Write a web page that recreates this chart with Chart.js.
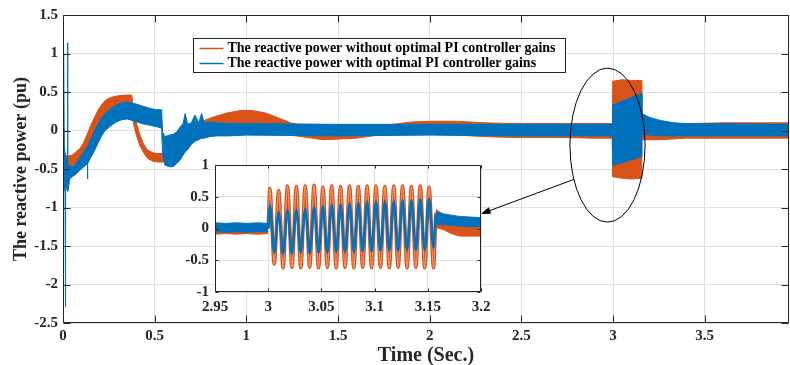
<!DOCTYPE html>
<html>
<head>
<meta charset="utf-8">
<script src="https://cdn.jsdelivr.net/npm/chart.js@4.4.1/dist/chart.umd.min.js"></script>
<style>
  html, body { margin: 0; padding: 0; background: #fff; }
  #wrap { position: relative; width: 790px; height: 365px; }
  #main { position: absolute; left: 0; top: 0; }
  #inset { position: absolute; left: 170px; top: 150px; }
</style>
</head>
<body>
<div id="wrap">
  <canvas id="main" width="790" height="365"></canvas>
  <canvas id="inset" width="330" height="170"></canvas>
</div>
<script>
// series names and tick labels
const seriesNames = [
  "The reactive power without optimal PI controller gains",
  "The reactive power with optimal PI controller gains"
];
const xTicks = [0, 0.5, 1, 1.5, 2, 2.5, 3, 3.5];
const yTicks = [1.5, 1, 0.5, 0, -0.5, -1, -1.5, -2, -2.5];
const insetXTicks = [2.95, 3, 3.05, 3.1, 3.15, 3.2];
const insetYTicks = [1, 0.5, 0, -0.5, -1];

// main plot: the noisy signals are read as upper / lower envelopes
const orangeTime = [0, 0.004, 0.015, 0.03, 0.05, 0.07, 0.09, 0.11, 0.13, 0.15, 0.17, 0.19, 0.21, 0.23, 0.26,
  0.30, 0.34, 0.37, 0.375, 0.385, 0.40, 0.42, 0.44, 0.46, 0.49, 0.52, 0.555, 0.58, 0.62, 0.66, 0.70, 0.74, 0.78,
  0.84, 0.90, 0.97, 1.03, 1.10, 1.17, 1.24, 1.30, 1.42, 1.60, 1.66, 1.72, 1.80, 1.90, 2.00, 2.15, 2.30, 2.45,
  2.70, 2.90, 2.996, 2.998, 3.05, 3.10, 3.155, 3.157, 3.20, 3.26, 3.33, 3.40, 3.60, 3.80, 3.96];
const orangeHigh = [0.02, -0.30, -0.33, -0.33, -0.32, -0.28, -0.24, -0.17, -0.06, 0.06, 0.16, 0.26, 0.33, 0.39, 0.43,
  0.45, 0.46, 0.46, 0.46, 0.25, 0.10, -0.06, -0.18, -0.25, -0.29, -0.30, -0.30, -0.26, -0.15, -0.04, 0.04, 0.09, 0.14,
  0.19, 0.23, 0.26, 0.26, 0.23, 0.17, 0.10, 0.07, 0.05, 0.05, 0.05, 0.06, 0.08, 0.11, 0.12, 0.12, 0.10, 0.09,
  0.09, 0.09, 0.09, 0.64, 0.66, 0.65, 0.65, 0.05, 0.04, 0.05, 0.07, 0.09, 0.10, 0.10, 0.10];
const orangeLow = [-0.02, -0.40, -0.45, -0.46, -0.46, -0.43, -0.40, -0.35, -0.27, -0.16, -0.05, 0.04, 0.12, 0.18, 0.24,
  0.27, 0.29, 0.29, 0.22, 0.08, -0.06, -0.20, -0.29, -0.36, -0.40, -0.41, -0.41, -0.40, -0.32, -0.20, -0.10, -0.03, 0.01,
  0.05, 0.07, 0.09, 0.09, 0.07, 0.03, -0.06, -0.08, -0.12, -0.10, -0.08, -0.06, -0.05, -0.05, -0.05, -0.06, -0.08, -0.09,
  -0.09, -0.10, -0.10, -0.60, -0.62, -0.63, -0.62, -0.12, -0.12, -0.12, -0.11, -0.10, -0.10, -0.10, -0.10];

const blueTime = [0, 0.004, 0.007, 0.011, 0.013, 0.015, 0.020, 0.0235, 0.025, 0.0265, 0.030, 0.036, 0.05, 0.07, 0.09,
  0.11, 0.133, 0.134, 0.135, 0.15, 0.17, 0.19, 0.21, 0.23, 0.26, 0.29, 0.32, 0.35, 0.39, 0.43,
  0.47, 0.51, 0.538, 0.543, 0.556, 0.58, 0.60, 0.62, 0.64, 0.655, 0.666, 0.68, 0.70, 0.72, 0.74,
  0.756, 0.77, 0.80, 0.84, 0.90, 1.00, 1.50, 2.00, 2.50, 2.996, 2.998, 3.05, 3.10, 3.155, 3.158,
  3.20, 3.26, 3.33, 3.40, 3.96];
const blueHigh = [0.98, 0.95, -0.20, -0.30, -0.32, -0.35, -0.40, -0.40, 1.14, -0.42, -0.45, -0.45, -0.47, -0.44, -0.36,
  -0.29, -0.21, -0.21, -0.21, -0.12, -0.02, 0.08, 0.16, 0.22, 0.28, 0.33, 0.36, 0.37, 0.35, 0.32,
  0.29, 0.27, 0.27, -0.02, -0.08, -0.06, -0.05, -0.02, 0.05, 0.09, 0.22, 0.08, 0.10, 0.20, 0.10,
  0.22, 0.10, 0.11, 0.10, 0.09, 0.09, 0.08, 0.08, 0.08, 0.08, 0.33, 0.38, 0.43, 0.48, 0.22,
  0.17, 0.13, 0.10, 0.09, 0.08];
const blueLow = [-0.62, -0.70, -0.75, -0.80, -2.29, -0.80, -0.72, -0.70, -0.72, -0.79, -0.75, -0.63, -0.60, -0.57, -0.52,
  -0.48, -0.43, -0.63, -0.43, -0.36, -0.27, -0.17, -0.07, 0.00, 0.06, 0.11, 0.14, 0.15, 0.12, 0.09,
  0.07, 0.05, 0.03, -0.30, -0.45, -0.47, -0.47, -0.43, -0.38, -0.32, -0.28, -0.25, -0.18, -0.14, -0.12,
  -0.10, -0.10, -0.08, -0.07, -0.07, -0.06, -0.07, -0.06, -0.07, -0.07, -0.45, -0.42, -0.38, -0.34, -0.05,
  -0.06, -0.07, -0.07, -0.07, -0.07];

// inset: noise band before the fault, oscillation peaks/troughs, noise band after
const preTime = [2.95, 2.96, 2.97, 2.98, 2.99, 3.0];
const orangePreHigh = [0.06, 0.07, 0.06, 0.07, 0.06, 0.06];
const orangePreLow = [-0.09, -0.08, -0.09, -0.08, -0.09, -0.08];
const bluePreHigh = [0.09, 0.08, 0.09, 0.08, 0.09, 0.08];
const bluePreLow = [-0.05, -0.06, -0.05, -0.06, -0.05, -0.05];

const oscTime = [3.0, 3.0015, 3.0057, 3.0098, 3.014, 3.0181, 3.0223, 3.0265, 3.0306, 3.0348, 3.039, 3.0431,
  3.0473, 3.0514, 3.0556, 3.0597, 3.0639, 3.068, 3.0722, 3.0764, 3.0805, 3.0847, 3.0888, 3.093, 3.0972,
  3.1013, 3.1055, 3.1096, 3.1138, 3.118, 3.1221, 3.1263, 3.1305, 3.1346, 3.1388, 3.1429, 3.1471, 3.1512,
  3.1554, 3.1575];
const orangeOsc = [0.0, 0.63, -0.56, 0.60, -0.62, 0.67, -0.61, 0.66, -0.62, 0.67, -0.61, 0.68, -0.62, 0.65,
  -0.61, 0.67, -0.62, 0.66, -0.61, 0.67, -0.62, 0.66, -0.61, 0.67, -0.62, 0.67, -0.61, 0.66, -0.62, 0.67,
  -0.61, 0.67, -0.62, 0.66, -0.61, 0.67, -0.62, 0.65, -0.62, 0.25];
const blueOsc = [0.0, 0.37, -0.38, 0.26, -0.40, 0.29, -0.39, 0.29, -0.38, 0.31, -0.39, 0.34, -0.38, 0.35,
  -0.38, 0.37, -0.37, 0.37, -0.37, 0.39, -0.37, 0.40, -0.36, 0.42, -0.36, 0.42, -0.35, 0.43, -0.35, 0.43,
  -0.35, 0.44, -0.34, 0.44, -0.34, 0.46, -0.34, 0.47, -0.30, 0.22];

const postTime = [3.1575, 3.165, 3.172, 3.18, 3.19, 3.2];
const orangePostHigh = [0.30, 0.22, 0.12, 0.06, 0.05, 0.05];
const orangePostLow = [0.02, -0.02, -0.08, -0.12, -0.12, -0.12];
const bluePostHigh = [0.26, 0.23, 0.21, 0.19, 0.18, 0.17];
const bluePostLow = [0.07, 0.06, 0.05, 0.04, 0.03, 0.03];

// annotation: ellipse around the fault (data units) and arrow to the inset
const ellipseAt = { t: 2.97, v: -0.19, rt: 0.205, rv: 1.0 };
const arrowFrom = 2.68; // angle on the ellipse, radians
const arrowTip = { t: 2.278, v: -1.084 };

const ORANGE = "#D95319";
const SALMON = "#EE9E7C";
const BLUE = "#0072BD";
const AXIS = "#262626";
const GRID = "#dfdfdf";
const FONT = "'Liberation Serif', 'Times New Roman', serif";

Chart.defaults.font.family = FONT;

function pts(time, vals) {
  return time.map((t, i) => ({ x: t, y: vals[i] }));
}

function band(time, hi, lo, color, order) {
  return [
    { data: pts(time, hi), borderColor: color, borderWidth: 1, pointRadius: 0, fill: false, order },
    { data: pts(time, lo), borderColor: color, borderWidth: 1, pointRadius: 0, fill: "-1", backgroundColor: color, order }
  ];
}

function wave(time, vals, color, width, order) {
  return { data: pts(time, vals), borderColor: color, borderWidth: width, pointRadius: 0, fill: false,
    cubicInterpolationMode: "monotone", order };
}

function drawFrame(ctx, a, xs, ys, xt, yt, len) {
  const L = Math.round(a.left) + 0.5, R = Math.round(a.right) - 0.5;
  const T = Math.round(a.top) + 0.5, B = Math.round(a.bottom) - 0.5;
  ctx.strokeStyle = AXIS;
  ctx.lineWidth = 1;
  ctx.beginPath();
  ctx.rect(L, T, R - L, B - T);
  xt.forEach(v => {
    const px = Math.round(xs.getPixelForValue(v)) + 0.5;
    ctx.moveTo(px, B); ctx.lineTo(px, B - len);
    ctx.moveTo(px, T); ctx.lineTo(px, T + len);
  });
  yt.forEach(v => {
    const py = Math.round(ys.getPixelForValue(v)) + 0.5;
    ctx.moveTo(L, py); ctx.lineTo(L + len, py);
    ctx.moveTo(R, py); ctx.lineTo(R - len, py);
  });
  ctx.stroke();
}

const mainDecor = {
  id: "mainDecor",
  afterDraw(chart) {
    const { ctx, chartArea: a, scales: { x, y } } = chart;
    ctx.save();
    drawFrame(ctx, a, x, y, xTicks, yTicks, 7);

    // ellipse + arrow
    const cx = x.getPixelForValue(ellipseAt.t), cy = y.getPixelForValue(ellipseAt.v);
    const rx = x.getPixelForValue(ellipseAt.t + ellipseAt.rt) - cx;
    const ry = cy - y.getPixelForValue(ellipseAt.v + ellipseAt.rv);
    ctx.strokeStyle = "#000";
    ctx.lineWidth = 1;
    ctx.beginPath();
    ctx.ellipse(cx, cy, rx, ry, 0, 0, Math.PI * 2);
    ctx.stroke();

    const sx = cx + rx * Math.cos(arrowFrom), sy = cy + ry * Math.sin(arrowFrom);
    const ex = x.getPixelForValue(arrowTip.t), ey = y.getPixelForValue(arrowTip.v);
    const ang = Math.atan2(ey - sy, ex - sx);
    const hl = 10, hw = 3.5;
    const bx = ex - hl * Math.cos(ang), by = ey - hl * Math.sin(ang);
    ctx.beginPath();
    ctx.moveTo(sx, sy);
    ctx.lineTo(bx, by);
    ctx.stroke();
    ctx.fillStyle = "#000";
    ctx.beginPath();
    ctx.moveTo(ex, ey);
    ctx.lineTo(bx + hw * Math.sin(ang), by - hw * Math.cos(ang));
    ctx.lineTo(bx - hw * Math.sin(ang), by + hw * Math.cos(ang));
    ctx.closePath();
    ctx.fill();

    // legend box
    const lx = Math.round(a.left + 130) + 0.5, ly = Math.round(a.top + 23) + 0.5;
    const lw = 372, lh = 34;
    ctx.fillStyle = "#fff";
    ctx.fillRect(lx, ly, lw, lh);
    ctx.strokeStyle = AXIS;
    ctx.strokeRect(lx, ly, lw, lh);
    ctx.font = "bold 14px " + FONT;
    ctx.textBaseline = "middle";
    [ORANGE, BLUE].forEach((c, i) => {
      const yy = ly + 10 + i * 15;
      ctx.strokeStyle = c;
      ctx.lineWidth = 1.5;
      ctx.beginPath();
      ctx.moveTo(lx + 6, yy); ctx.lineTo(lx + 30, yy);
      ctx.stroke();
      ctx.fillStyle = "#000";
      ctx.fillText(seriesNames[i], lx + 34, yy);
    });
    ctx.restore();
  }
};

const insetDecor = {
  id: "insetDecor",
  beforeDraw(chart) {
    const { ctx, chartArea: a } = chart;
    ctx.save();
    ctx.fillStyle = "#fff";
    ctx.fillRect(a.left, a.top, a.right - a.left, a.bottom - a.top);
    ctx.restore();
  },
  afterDraw(chart) {
    const { ctx, chartArea: a, scales: { x, y } } = chart;
    ctx.save();
    drawFrame(ctx, a, x, y, insetXTicks, insetYTicks, 3);
    ctx.restore();
  }
};

const tickFont = { size: 15, weight: "bold" };

new Chart(document.getElementById("main"), {
  type: "line",
  data: {
    datasets: [
      ...band(orangeTime, orangeHigh, orangeLow, ORANGE, 2),
      ...band(blueTime, blueHigh, blueLow, BLUE, 1)
    ]
  },
  options: {
    responsive: false,
    animation: false,
    devicePixelRatio: 1,
    events: [],
    layout: { padding: { top: 15, right: 1, left: 0, bottom: 0 } },
    plugins: { legend: { display: false }, tooltip: { enabled: false } },
    scales: {
      x: {
        type: "linear", min: 0, max: 3.96,
        afterBuildTicks: s => { s.ticks = xTicks.map(v => ({ value: v })); },
        afterFit: s => { s.height = 42; },
        ticks: { font: tickFont, color: AXIS, padding: 4, maxRotation: 0, autoSkip: false, callback: v => String(v) },
        grid: { color: GRID, drawTicks: false },
        border: { display: false },
        title: { display: true, text: "Time (Sec.)", color: AXIS, font: { size: 20, weight: "bold", lineHeight: 0.9 }, padding: { top: 0, bottom: 0 } }
      },
      y: {
        type: "linear", min: -2.5, max: 1.5,
        afterBuildTicks: s => { s.ticks = yTicks.map(v => ({ value: v })); },
        afterFit: s => { s.width = 63; },
        ticks: { font: tickFont, color: AXIS, padding: 5, autoSkip: false, callback: v => String(v) },
        grid: { color: GRID, drawTicks: false },
        border: { display: false },
        title: { display: true, text: "The reactive power (pu)", color: AXIS, font: { size: 18, weight: "bold", lineHeight: 0.9 }, padding: { top: 13, bottom: 0 } }
      }
    }
  },
  plugins: [mainDecor]
});

new Chart(document.getElementById("inset"), {
  type: "line",
  data: {
    datasets: [
      ...band(preTime, orangePreHigh, orangePreLow, ORANGE, 3),
      ...band(postTime, orangePostHigh, orangePostLow, ORANGE, 3),
      wave(oscTime, orangeOsc, ORANGE, 3.5, 3),
      wave(oscTime, orangeOsc, SALMON, 1, 2),
      ...band(preTime, bluePreHigh, bluePreLow, BLUE, 1),
      ...band(postTime, bluePostHigh, bluePostLow, BLUE, 1),
      wave(oscTime, blueOsc, BLUE, 2.5, 1)
    ]
  },
  options: {
    responsive: false,
    animation: false,
    devicePixelRatio: 1,
    events: [],
    layout: { padding: { top: 12, right: 19, left: 0, bottom: 0 } },
    plugins: { legend: { display: false }, tooltip: { enabled: false } },
    scales: {
      x: {
        type: "linear", min: 2.95, max: 3.2,
        afterBuildTicks: s => { s.ticks = insetXTicks.map(v => ({ value: v })); },
        afterFit: s => { s.height = 28; },
        ticks: { font: tickFont, color: AXIS, padding: 6, maxRotation: 0, autoSkip: false, callback: v => String(+v.toFixed(2)) },
        grid: { color: GRID, drawTicks: false },
        border: { display: false }
      },
      y: {
        type: "linear", min: -1, max: 1,
        afterBuildTicks: s => { s.ticks = insetYTicks.map(v => ({ value: v })); },
        afterFit: s => { s.width = 45; },
        ticks: { font: tickFont, color: AXIS, padding: 6, autoSkip: false, callback: v => String(v) },
        grid: { color: GRID, drawTicks: false },
        border: { display: false }
      }
    }
  },
  plugins: [insetDecor]
});
</script>
</body>
</html>
